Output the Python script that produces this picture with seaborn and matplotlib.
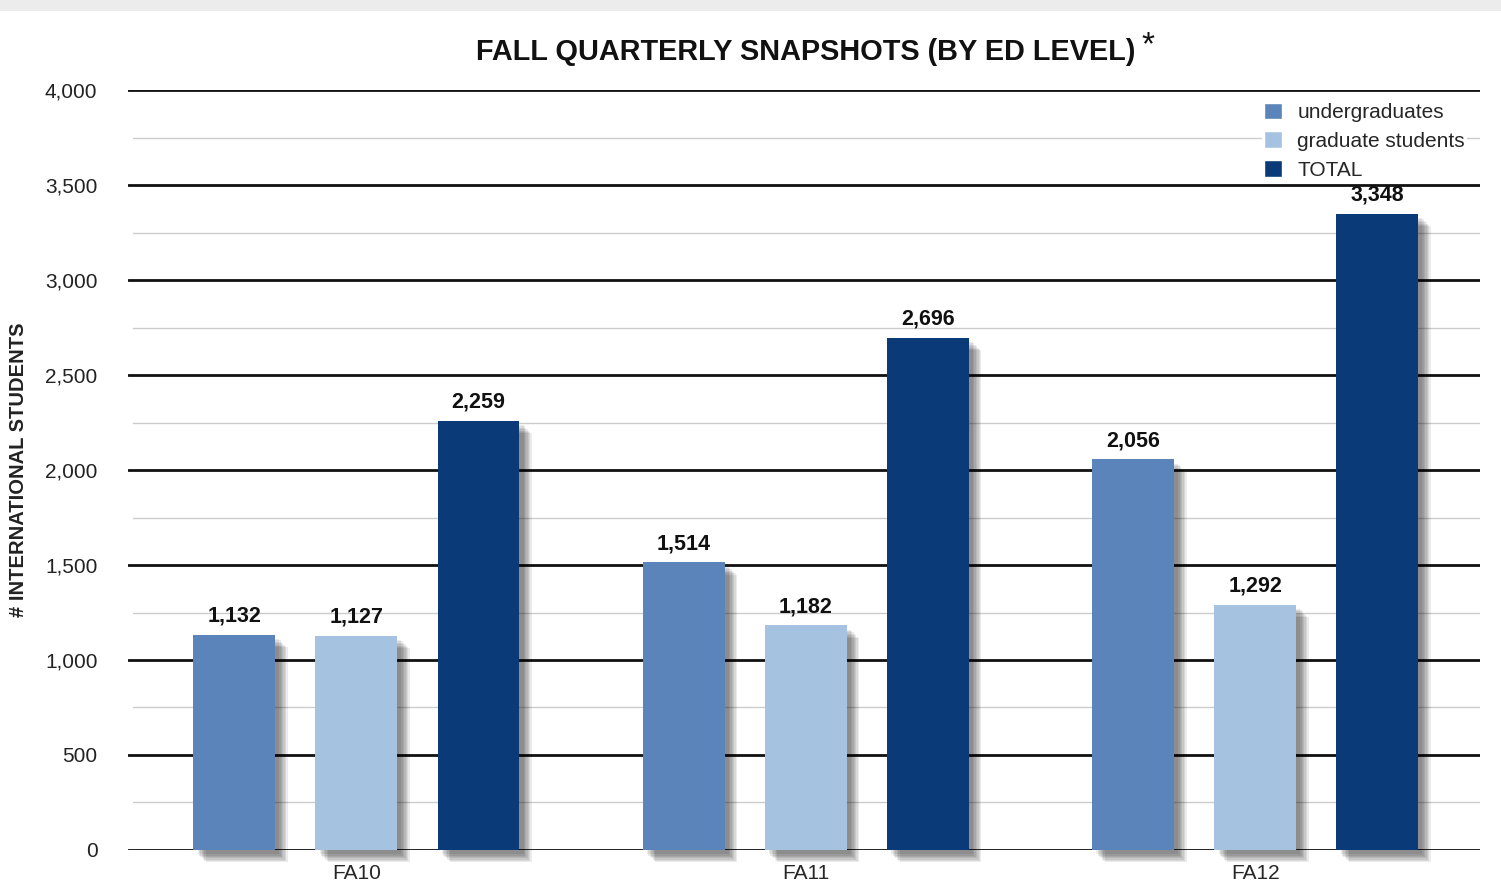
import matplotlib
matplotlib.use("Agg")
import matplotlib.pyplot as plt
import matplotlib.patheffects as pe
from matplotlib.patches import Rectangle
import seaborn as sns
import pandas as pd
import numpy as np

terms = ["FA10", "FA11", "FA12"]
series = ["undergraduates", "graduate students", "TOTAL"]
undergrad = [1132, 1514, 2056]
graduate = [1127, 1182, 1292]
total = [2259, 2696, 3348]
colors = ["#5a84ba", "#a5c3e1", "#0a3a78"]
yticks = [0, 500, 1000, 1500, 2000, 2500, 3000, 3500, 4000]

df = pd.DataFrame({
    "term": terms * 3,
    "series": [series[0]] * 3 + [series[1]] * 3 + [series[2]] * 3,
    "value": undergrad + graduate + total,
})

sns.set_theme(style="white")
plt.rcParams["font.family"] = ["Liberation Sans", "DejaVu Sans"]

fig = plt.figure(figsize=(15.01, 8.81), dpi=100)
fig.patches.append(Rectangle((0, 0.988), 1, 0.012, transform=fig.transFigure,
                             facecolor="#ececec", edgecolor="none", zorder=0))
ax = fig.add_axes([0.0853, 0.0352, 0.9007, 0.8626])

# grid lines
for v in np.arange(250, 4000, 500):
    ax.axhline(v, color="#cccccc", lw=1.0, zorder=0, xmin=0.004)
for v in yticks:
    ax.axhline(v, color="#111111", lw=2.0, zorder=0.5)

sns.barplot(data=df, x="term", y="value", hue="series", palette=colors,
            width=0.815, gap=0.33, ax=ax, legend=True, saturation=1,
            zorder=2)

shadow = [pe.SimplePatchShadow(offset=(k, -k), shadow_rgbFace="#000000", alpha=0.08)
          for k in (9, 8, 7, 6, 5, 4, 3)] + [pe.Normal()]
for container in ax.containers:
    for bar in container:
        bar.set_path_effects(shadow)
        bar.set_edgecolor("none")
        bar.set_clip_on(False)
    ax.bar_label(container, labels=[f"{int(b.get_height()):,}" for b in container],
                 padding=6, fontsize=15.5, fontweight="bold", color="#111111")

ax.set_xlim(-0.508, 2.5)
ax.set_ylim(0, 4000)
ax.set_yticks(yticks)
ax.set_yticklabels([f"{v:,}" for v in yticks], fontsize=15, color="#222222")
ax.tick_params(axis="y", length=0, pad=22)
ax.tick_params(axis="x", length=0, pad=10, labelsize=15)
for s in ax.spines.values():
    s.set_visible(False)
ax.set_xlabel("")
ax.set_ylabel("# INTERNATIONAL STUDENTS", fontsize=14.5, fontweight="bold",
              color="#222222", labelpad=12)

fig.text(0.537, 0.941, "FALL QUARTERLY SNAPSHOTS (BY ED LEVEL)", ha="center",
         va="center", fontsize=20.8, fontweight="bold", color="#111111")
fig.text(0.765, 0.948, "*", ha="center", va="center", fontsize=24, color="#111111")

leg = ax.legend(loc="upper right", bbox_to_anchor=(0.998, 1.0), frameon=True,
                fontsize=15, handlelength=0.85, handleheight=0.85, handletextpad=0.75,
                labelspacing=0.45, borderpad=0.1, facecolor="white", edgecolor="none",
                framealpha=1)
for h in leg.legend_handles:
    h.set_path_effects([])

fig.savefig("out.png", dpi=100)
